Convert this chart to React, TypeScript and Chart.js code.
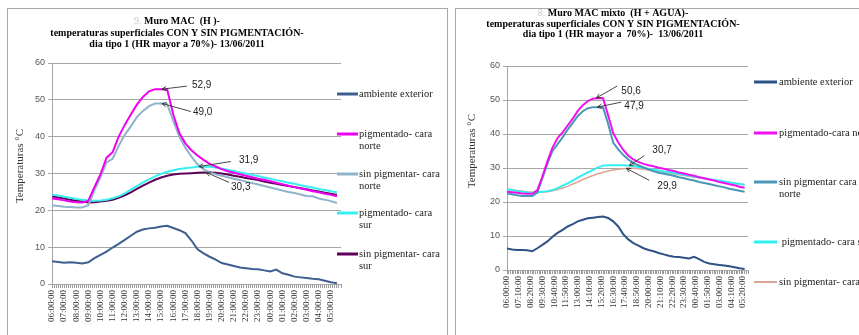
import React, { useEffect, useRef } from 'react';
import { Chart, registerables } from 'chart.js';
Chart.register(...registerables);

// ---------- DATA ----------
const MINUTES = [0, 30, 60, 90, 120, 150, 180, 210, 240, 270, 300, 330, 360, 390, 420, 450, 480, 510, 540, 570, 600, 630, 660, 690, 720, 750, 780, 810, 840, 870, 900, 930, 960, 990, 1020, 1050, 1080, 1110, 1140, 1170, 1200, 1230, 1260, 1290, 1320, 1350, 1380, 1410];

const LEFT_TICK_LABELS = ['06:00:00', '07:00:00', '08:00:00', '09:00:00', '10:00:00', '11:00:00', '12:00:00', '13:00:00', '14:00:00', '15:00:00', '16:00:00', '17:00:00', '18:00:00', '19:00:00', '20:00:00', '21:00:00', '22:00:00', '23:00:00', '00:00:00', '01:00:00', '02:00:00', '03:00:00', '04:00:00', '05:00:00'];
const RIGHT_TICK_LABELS = ['06:00:00', '07:10:00', '08:20:00', '09:30:00', '10:40:00', '11:50:00', '13:00:00', '14:10:00', '15:20:00', '16:30:00', '17:40:00', '18:50:00', '20:00:00', '21:10:00', '22:20:00', '23:30:00', '00:40:00', '01:50:00', '03:00:00', '04:10:00', '05:20:00'];

// Left chart: Muro MAC (H)
const L_AMB = [6.2, 6.0, 5.8, 5.9, 5.8, 5.6, 5.9, 7.0, 7.9, 8.8, 9.9, 10.9, 12.0, 13.1, 14.2, 14.8, 15.1, 15.3, 15.6, 15.8, 15.2, 14.6, 13.8, 11.8, 9.4, 8.3, 7.4, 6.6, 5.7, 5.3, 4.9, 4.5, 4.3, 4.1, 4.0, 3.7, 3.4, 3.9, 2.9, 2.5, 2.0, 1.8, 1.6, 1.4, 1.3, 0.9, 0.5, 0.2];
const L_PIG_N = [23.2, 23.0, 22.7, 22.4, 22.2, 22.1, 22.6, 26.3, 29.8, 34.3, 35.8, 40.0, 43.2, 46.0, 48.7, 50.8, 52.3, 52.9, 52.9, 52.8, 46.0, 41.0, 38.2, 36.3, 34.9, 33.7, 32.6, 31.9, 31.2, 30.6, 30.2, 29.8, 29.4, 29.0, 28.6, 28.3, 27.9, 27.5, 27.1, 26.7, 26.3, 26.0, 25.6, 25.2, 24.9, 24.5, 24.2, 23.8];
const L_SIN_N = [21.4, 21.2, 21.0, 20.9, 20.8, 20.8, 21.4, 25.5, 29.0, 33.0, 34.0, 37.5, 40.5, 42.8, 45.3, 47.0, 48.3, 49.0, 49.0, 48.8, 44.3, 40.0, 37.0, 34.6, 32.5, 31.1, 30.3, 29.8, 29.4, 29.0, 28.6, 28.2, 27.8, 27.4, 27.0, 26.6, 26.2, 25.8, 25.4, 25.0, 24.7, 24.3, 23.9, 23.8, 23.2, 22.9, 22.5, 22.0];
const L_PIG_S = [24.2, 24.0, 23.7, 23.4, 23.1, 22.9, 22.7, 22.6, 22.7, 22.9, 23.3, 23.8, 24.6, 25.6, 26.6, 27.6, 28.4, 29.2, 29.9, 30.5, 30.9, 31.2, 31.4, 31.6, 31.8, 31.9, 31.8, 31.6, 31.3, 31.0, 30.7, 30.3, 30.0, 29.6, 29.3, 28.9, 28.6, 28.2, 27.9, 27.5, 27.2, 26.8, 26.5, 26.2, 25.8, 25.5, 25.2, 24.9];
const L_SIN_S = [23.8, 23.5, 23.2, 22.9, 22.6, 22.4, 22.1, 22.2, 22.4, 22.6, 22.9, 23.4, 24.1, 24.9, 25.8, 26.7, 27.5, 28.3, 28.9, 29.4, 29.7, 29.9, 30.0, 30.1, 30.2, 30.3, 30.3, 30.2, 30.0, 29.7, 29.4, 29.1, 28.8, 28.5, 28.2, 27.8, 27.5, 27.2, 26.9, 26.6, 26.3, 26.0, 25.7, 25.4, 25.1, 24.8, 24.5, 24.2];

// Right chart: Muro MAC mixto (H + AGUA)
const R_AMB = [6.3, 6.0, 5.9, 5.9, 5.8, 5.5, 6.4, 7.4, 8.4, 9.8, 10.9, 11.8, 12.8, 13.5, 14.3, 14.8, 15.2, 15.4, 15.6, 15.7, 15.3, 14.3, 12.8, 10.5, 9.0, 7.9, 7.2, 6.4, 5.9, 5.5, 5.0, 4.6, 4.2, 3.9, 3.8, 3.6, 3.4, 3.9, 3.2, 2.4, 1.9, 1.7, 1.5, 1.3, 1.1, 0.8, 0.5, 0.3];
const R_PIG_N = [23.0, 22.9, 22.7, 22.5, 22.4, 22.4, 23.5, 27.5, 32.0, 36.0, 38.8, 40.5, 42.5, 44.5, 46.8, 48.5, 49.7, 50.4, 50.6, 50.5, 45.5, 40.3, 37.5, 35.3, 33.6, 32.5, 31.8, 31.2, 30.8, 30.5, 30.1, 29.8, 29.4, 29.1, 28.7, 28.4, 28.0, 27.7, 27.3, 27.0, 26.6, 26.3, 25.9, 25.6, 25.2, 24.9, 24.5, 24.2];
const R_SIN_N = [22.5, 22.3, 22.0, 21.8, 21.8, 21.8, 22.8, 27.0, 31.3, 35.0, 37.0, 39.0, 41.3, 43.3, 45.3, 46.7, 47.6, 47.9, 47.9, 47.8, 43.0, 37.5, 35.5, 33.8, 32.5, 31.5, 30.8, 30.2, 29.6, 29.0, 28.6, 28.3, 28.0, 27.7, 27.3, 27.0, 26.6, 26.3, 25.9, 25.6, 25.3, 24.9, 24.6, 24.3, 23.9, 23.6, 23.3, 23.0];
const R_PIG_S = [23.7, 23.5, 23.2, 23.0, 22.8, 22.7, 22.9, 23.0, 23.2, 23.5, 24.1, 24.8, 25.5, 26.3, 27.2, 28.0, 28.7, 29.4, 30.2, 30.7, 30.8, 30.8, 30.8, 30.8, 30.7, 30.5, 30.3, 30.1, 29.8, 29.5, 29.3, 29.0, 28.8, 28.5, 28.3, 28.0, 27.8, 27.5, 27.3, 27.0, 26.8, 26.5, 26.3, 26.0, 25.8, 25.5, 25.3, 25.1];
const R_SIN_S = [23.8, 23.6, 23.4, 23.2, 23.0, 22.9, 22.9, 22.9, 23.0, 23.3, 23.7, 24.1, 24.6, 25.3, 25.9, 26.6, 27.2, 27.8, 28.3, 28.7, 29.1, 29.4, 29.6, 29.8, 29.9, 29.9, 29.8, 29.6, 29.4, 29.2, 29.0, 28.7, 28.5, 28.3, 28.0, 27.8, 27.6, 27.3, 27.1, 26.9, 26.6, 26.4, 26.2, 25.9, 25.7, 25.5, 25.3, 25.1];

const LEFT_SERIES = ['ambiente exterior', 'pigmentado- cara norte', 'sin pigmentar- cara norte', 'pigmentado- cara sur', 'sin pigmentar- cara sur'];
const RIGHT_SERIES = ['ambiente exterior', 'pigmentado-cara norte', 'sin pigmentar cara norte', ' pigmentado- cara sur', 'sin pigmentar- cara sur'];

// ---------- DRAWING ----------
const SERIF = '"Liberation Serif", "Times New Roman", serif';
const SANS = '"Liberation Sans", Arial, sans-serif';

type LegendItem = { color: string; width: number; y: number; lines: string[] };
type Ann = { m: number; v: number; dx: number; dy: number; tx: number; ty: number; text: string };
type Cfg = {
  width: number; height: number;
  padTop: number; padRight: number; yWidth: number; xHeight: number;
  tickStep: number; tickLabels: string[];
  series: { label: string; values: number[]; color: string; width: number }[];
  title: { cx: number; ys: number[]; pre: string; lines: string[] };
  yTitle: { x: number; y: number };
  legend: { x0: number; x1: number; tx: number; items: LegendItem[] };
  anns: Ann[];
};

function drawDecor(chart: any, cfg: Cfg) {
  const ctx: CanvasRenderingContext2D = chart.ctx;
  const xs = chart.scales.x, ys = chart.scales.y;
  ctx.save();
  // title
  ctx.textBaseline = 'middle';
  ctx.font = `bold 10px ${SERIF}`;
  cfg.title.lines.forEach((line, i) => {
    const pre = i === 0 ? cfg.title.pre : '';
    ctx.font = `10px ${SERIF}`;
    const wp = pre ? ctx.measureText(pre).width : 0;
    ctx.font = `bold 10px ${SERIF}`;
    const wl = ctx.measureText(line).width;
    let x = cfg.title.cx - (wp + wl) / 2;
    ctx.textAlign = 'left';
    if (pre) {
      ctx.font = `10px ${SERIF}`;
      ctx.fillStyle = '#c8c8c8';
      ctx.fillText(pre, x, cfg.title.ys[i]);
      x += wp;
    }
    ctx.font = `bold 10px ${SERIF}`;
    ctx.fillStyle = '#000';
    ctx.fillText(line, x, cfg.title.ys[i]);
  });
  // y title
  ctx.save();
  ctx.translate(cfg.yTitle.x, cfg.yTitle.y);
  ctx.rotate(-Math.PI / 2);
  ctx.font = `11px ${SERIF}`;
  ctx.fillStyle = '#333';
  ctx.textAlign = 'center';
  ctx.fillText('Temperaturas °C', 0, 0);
  ctx.restore();
  // legend
  ctx.textAlign = 'left';
  ctx.font = `10.5px ${SERIF}`;
  ctx.fillStyle = '#222';
  cfg.legend.items.forEach((it) => {
    ctx.strokeStyle = it.color;
    ctx.lineWidth = it.width;
    ctx.beginPath();
    ctx.moveTo(cfg.legend.x0, it.y);
    ctx.lineTo(cfg.legend.x1, it.y);
    ctx.stroke();
    it.lines.forEach((t, k) => ctx.fillText(t, cfg.legend.tx, it.y + k * 12));
  });
  // annotations
  ctx.font = `10px ${SANS}`;
  ctx.fillStyle = '#222';
  ctx.strokeStyle = '#333';
  ctx.lineWidth = 0.9;
  cfg.anns.forEach((a) => {
    const px = xs.getPixelForValue(a.m);
    const py = ys.getPixelForValue(a.v);
    const tx = px + a.dx, ty = py + a.dy;
    ctx.beginPath();
    ctx.moveTo(tx, ty);
    ctx.lineTo(px, py);
    const ang = Math.atan2(ty - py, tx - px);
    const L = 5;
    ctx.moveTo(px + L * Math.cos(ang + 0.45), py + L * Math.sin(ang + 0.45));
    ctx.lineTo(px, py);
    ctx.lineTo(px + L * Math.cos(ang - 0.45), py + L * Math.sin(ang - 0.45));
    ctx.stroke();
    ctx.fillText(a.text, tx + a.tx, ty + a.ty);
  });
  ctx.restore();
}

function buildConfig(cfg: Cfg): any {
  const minor: number[] = [];
  for (let v = 0; v <= 1430; v += 10) minor.push(v);
  return {
    type: 'line',
    data: {
      datasets: cfg.series.map((s) => ({
        label: s.label,
        data: MINUTES.map((m, i) => ({ x: m, y: s.values[i] })),
        borderColor: s.color,
        backgroundColor: s.color,
        borderWidth: s.width,
        pointRadius: 0,
        tension: 0,
        fill: false,
      })),
    },
    options: {
      responsive: false,
      animation: false,
      devicePixelRatio: 1,
      layout: { padding: { top: cfg.padTop, right: cfg.padRight, left: 0, bottom: 0 } },
      plugins: { legend: { display: false }, tooltip: { enabled: false }, title: { display: false } },
      scales: {
        x: {
          type: 'linear',
          min: 0,
          max: 1430,
          afterBuildTicks: (s: any) => { s.ticks = minor.map((v) => ({ value: v })); },
          afterFit: (s: any) => { s.height = cfg.xHeight; },
          grid: { display: true, drawOnChartArea: false, drawTicks: true, tickLength: 4, color: '#9a9a9a' },
          border: { display: true, color: '#a6a6a6' },
          ticks: {
            autoSkip: false, maxRotation: 90, minRotation: 90, padding: 2,
            font: { family: SERIF, size: 9 }, color: '#333',
            callback: (v: number) => (v % cfg.tickStep === 0 ? cfg.tickLabels[v / cfg.tickStep] ?? '' : ''),
          },
        },
        y: {
          min: 0, max: 60,
          afterFit: (s: any) => { s.width = cfg.yWidth; },
          ticks: { stepSize: 10, padding: 3, font: { family: SANS, size: 9 }, color: '#555' },
          grid: { color: '#a6a6a6', tickLength: 4 },
          border: { display: true, color: '#a6a6a6' },
        },
      },
    },
    plugins: [{ id: 'decor', afterDraw: (chart: any) => drawDecor(chart, cfg) }],
  };
}

const LEFT_CFG: Cfg = {
  width: 438, height: 326, padTop: 54, padRight: 105, yWidth: 44, xHeight: 51,
  tickStep: 60, tickLabels: LEFT_TICK_LABELS,
  series: [
    { label: LEFT_SERIES[0], values: L_AMB, color: '#3d5e8e', width: 2 },
    { label: LEFT_SERIES[1], values: L_PIG_N, color: '#f000f0', width: 2 },
    { label: LEFT_SERIES[2], values: L_SIN_N, color: '#8fb3cb', width: 2 },
    { label: LEFT_SERIES[3], values: L_PIG_S, color: '#35f0f0', width: 2 },
    { label: LEFT_SERIES[4], values: L_SIN_S, color: '#600058', width: 2 },
  ],
  title: { cx: 169, ys: [12, 24, 35], pre: '9. ', lines: ['Muro MAC  (H )-', 'temperaturas superficiales CON Y SIN PIGMENTACIÓN-', 'dia tipo 1 (HR mayor a 70%)- 13/06/2011'] },
  yTitle: { x: 12, y: 157 },
  legend: {
    x0: 329, x1: 350, tx: 351,
    items: [
      { color: '#3d5e8e', width: 3, y: 85, lines: ['ambiente exterior'] },
      { color: '#f000f0', width: 3, y: 125, lines: ['pigmentado- cara', 'norte'] },
      { color: '#8fb3cb', width: 3, y: 165, lines: ['sin pigmentar- cara', 'norte'] },
      { color: '#35f0f0', width: 3, y: 204, lines: ['pigmentado- cara', 'sur'] },
      { color: '#600058', width: 3, y: 245, lines: ['sin pigmentar- cara', 'sur'] },
    ],
  },
  anns: [
    { m: 544, v: 52.9, dx: 25, dy: -3, tx: 5, ty: -1, text: '52,9' },
    { m: 544, v: 49.0, dx: 29, dy: 8, tx: 2, ty: 1, text: '49,0' },
    { m: 727, v: 31.9, dx: 32, dy: -5, tx: 8, ty: -1, text: '31,9' },
    { m: 762, v: 30.3, dx: 23, dy: 10, tx: 2, ty: 5, text: '30,3' },
  ],
};

const RIGHT_CFG: Cfg = {
  width: 403, height: 326, padTop: 57, padRight: 111, yWidth: 51, xHeight: 65,
  tickStep: 70, tickLabels: RIGHT_TICK_LABELS,
  series: [
    { label: RIGHT_SERIES[0], values: R_AMB, color: '#2e5285', width: 2 },
    { label: RIGHT_SERIES[1], values: R_PIG_N, color: '#ee10ee', width: 2 },
    { label: RIGHT_SERIES[2], values: R_SIN_N, color: '#4a97b6', width: 2 },
    { label: RIGHT_SERIES[3], values: R_PIG_S, color: '#30efee', width: 2 },
    { label: RIGHT_SERIES[4], values: R_SIN_S, color: '#dba596', width: 1.5 },
  ],
  title: { cx: 157, ys: [4, 15, 25], pre: '8. ', lines: ['Muro MAC mixto  (H + AGUA)-', 'temperaturas superficiales CON Y SIN PIGMENTACIÓN-', 'dia tipo 1 (HR mayor a  70%)-  13/06/2011'] },
  yTitle: { x: 16, y: 142 },
  legend: {
    x0: 298, x1: 321, tx: 323,
    items: [
      { color: '#2e5285', width: 3, y: 73, lines: ['ambiente exterior'] },
      { color: '#ee10ee', width: 3, y: 124, lines: ['pigmentado-cara norte'] },
      { color: '#4a97b6', width: 3, y: 173, lines: ['sin pigmentar cara', 'norte'] },
      { color: '#30efee', width: 3, y: 233, lines: [' pigmentado- cara sur'] },
      { color: '#dba596', width: 2, y: 273, lines: ['sin pigmentar- cara sur'] },
    ],
  },
  anns: [
    { m: 530, v: 50.6, dx: 21, dy: -12, tx: 4, ty: 5, text: '50,6' },
    { m: 536, v: 47.9, dx: 24, dy: -5, tx: 3, ty: 4, text: '47,9' },
    { m: 726, v: 30.7, dx: 15, dy: -10, tx: 8, ty: -5, text: '30,7' },
    { m: 708, v: 29.9, dx: 23, dy: 12, tx: 8, ty: 6, text: '29,9' },
  ],
};

function ChartPanel({ cfg }: { cfg: Cfg }) {
  const ref = useRef<HTMLCanvasElement>(null);
  useEffect(() => {
    const chart = new Chart(ref.current as HTMLCanvasElement, buildConfig(cfg));
    return () => chart.destroy();
  }, [cfg]);
  return <canvas ref={ref} width={cfg.width} height={cfg.height} style={{ display: 'block', width: cfg.width, height: cfg.height }} />;
}

export default function App() {
  return (
    <div style={{ position: 'fixed', left: 0, top: 0, width: 859, height: 335, overflow: 'hidden', background: '#fff' }}>
      <div style={{ position: 'absolute', left: 7, top: 8, width: 439, height: 400, border: '1px solid #a8a8a8', overflow: 'hidden' }}>
        <ChartPanel cfg={LEFT_CFG} />
      </div>
      <div style={{ position: 'absolute', left: 455, top: 8, width: 420, height: 400, border: '1px solid #a8a8a8', overflow: 'hidden' }}>
        <ChartPanel cfg={RIGHT_CFG} />
      </div>
    </div>
  );
}
